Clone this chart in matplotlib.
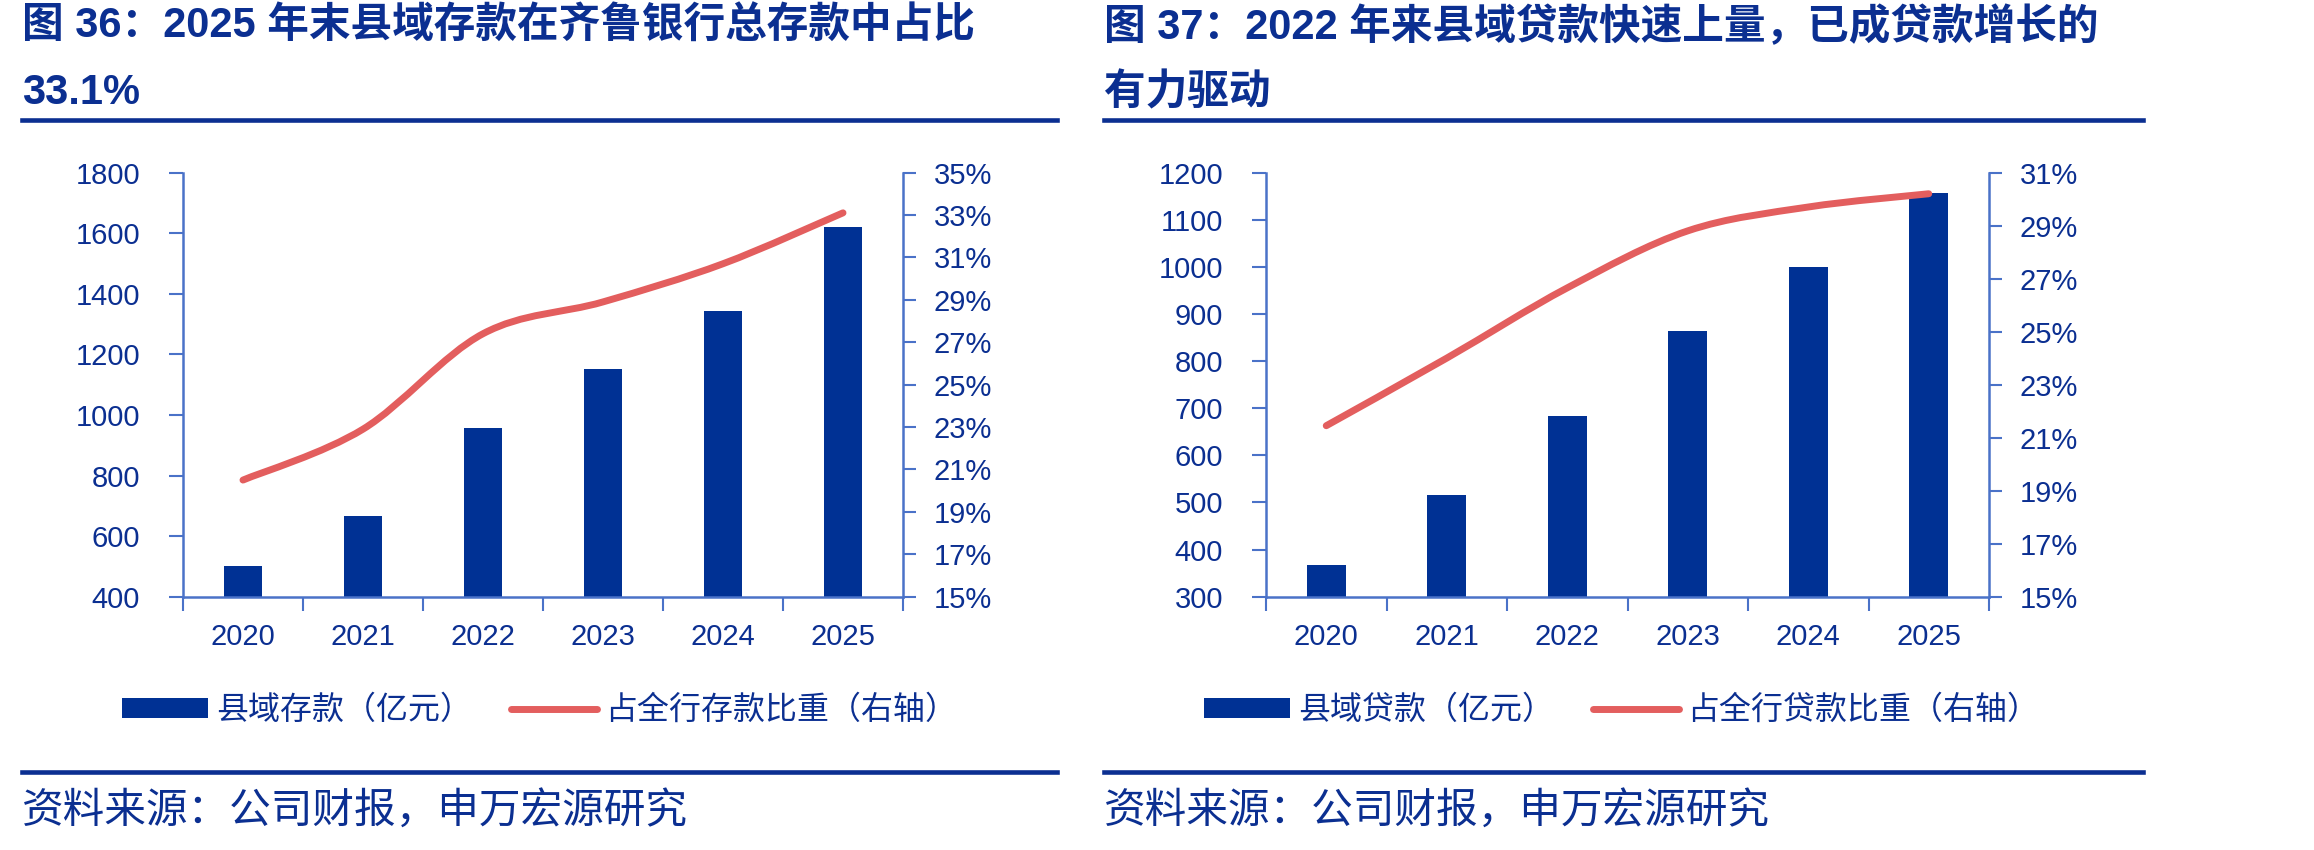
import matplotlib
matplotlib.use('Agg')
import matplotlib.pyplot as plt
from matplotlib.path import Path
from matplotlib.patches import PathPatch
from matplotlib.lines import Line2D
import numpy as np

# data
years = ['2020', '2021', '2022', '2023', '2024', '2025']
deposits = [501, 667, 957, 1150, 1344, 1621]          # 县域存款（亿元）
deposit_share = [20.5, 22.9, 27.4, 28.9, 30.7, 33.1]  # 占全行存款比重 %
loans = [367, 516, 684, 864, 999, 1156]               # 县域贷款（亿元）
loan_share = [21.45, 24.0, 26.65, 28.8, 29.7, 30.2]   # 占全行贷款比重 %

NAVY = '#003194'
TEXT = '#0B2F91'
AXIS = '#4A72C8'
RED = '#E35E5E'

plt.rcParams['font.family'] = ['Liberation Sans', 'Noto Sans CJK SC']

W, H = 2314, 850
fig = plt.figure(figsize=(W / 100, H / 100), dpi=100)


def smooth_path(xs, ys):
    # Excel-style smoothed line: bezier segments through the data points
    pts = np.column_stack([xs, ys]).astype(float)
    n = len(pts)
    verts = [pts[0]]
    codes = [Path.MOVETO]
    for i in range(n - 1):
        p0 = pts[max(i - 1, 0)]
        p1 = pts[i]
        p2 = pts[i + 1]
        p3 = pts[min(i + 2, n - 1)]
        verts += [p1 + (p2 - p0) / 6, p2 - (p3 - p1) / 6, p2]
        codes += [Path.CURVE4] * 3
    return Path(verts, codes)


def panel(left_px, right_px, values, share, ylim, yticks, y2lim, y2ticks,
          title1, title2, lab_bar, lab_line, x0_px, x1_px, leg_px):
    rect = [left_px / W, 0.298, (right_px - left_px) / W, 0.499]
    ax = fig.add_axes(rect)
    x = np.arange(len(years))
    bars = ax.bar(x, values, width=0.32, color=NAVY, zorder=2)
    ax.set_xlim(-0.5, len(years) - 0.5)
    ax.set_ylim(*ylim)
    ax.set_yticks(yticks)
    ax.set_xticks(np.arange(-0.5, len(years)))
    ax.set_xticks(x, labels=years, minor=True)
    ax.tick_params(axis='x', which='major', direction='out', length=10,
                   width=1.5, color=AXIS, labelbottom=False)
    ax.tick_params(axis='x', which='minor', length=0, pad=19,
                   labelsize=21, labelcolor=TEXT)
    ax.tick_params(axis='y', direction='out', length=10, width=1.5,
                   color=AXIS, pad=21, labelsize=21, labelcolor=TEXT)

    ax2 = ax.twinx()
    ax2.set_ylim(*y2lim)
    ax2.set_yticks(y2ticks, labels=[f'{t}%' for t in y2ticks])
    ax2.tick_params(axis='y', direction='out', length=9, width=1.5,
                    color=AXIS, pad=13, labelsize=21, labelcolor=TEXT)

    for a in (ax, ax2):
        a.spines['top'].set_visible(False)
        for s in ('left', 'right', 'bottom'):
            a.spines[s].set_color(AXIS)
            a.spines[s].set_linewidth(1.8)
    ax.spines['right'].set_visible(False)
    ax2.spines['left'].set_visible(False)
    ax2.spines['bottom'].set_visible(False)

    ax2.add_patch(PathPatch(smooth_path(x, share), fill=False, edgecolor=RED,
                            lw=5, capstyle='round', zorder=3))

    # title, rules, legend, source
    fig.text(x0_px / W, 1 - 27 / H, title1, fontsize=30, fontweight='bold',
             color=TEXT, va='center', ha='left')
    fig.text(x0_px / W, 1 - 93 / H, title2, fontsize=30, fontweight='bold',
             color=TEXT, va='center', ha='left')
    for yp in (120, 772):
        fig.add_artist(Line2D([x0_px / W, x1_px / W], [1 - yp / H] * 2,
                              color=TEXT, lw=3.3))
    line_h = Line2D([], [], color=RED, lw=5, solid_capstyle='round')
    fig.legend([bars, line_h], [lab_bar, lab_line], loc='center left',
               bbox_to_anchor=(leg_px / W, 1 - 711 / H), ncol=2,
               frameon=False, fontsize=23, labelcolor=TEXT, borderpad=0,
               borderaxespad=0, handlelength=2.7, handleheight=0.56,
               handletextpad=0.25, columnspacing=1.2)
    fig.text(x0_px / W, 1 - 813 / H, '资料来源：公司财报，申万宏源研究',
             fontsize=30, color=TEXT, va='center', ha='left')


panel(183, 903, deposits, deposit_share, (400, 1800),
      list(range(400, 1801, 200)), (15, 35), list(range(15, 36, 2)),
      '图 36：2025 年末县域存款在齐鲁银行总存款中占比', '33.1%',
      '县域存款（亿元）', '占全行存款比重（右轴）', 22, 1057, 122)

panel(1266, 1989, loans, loan_share, (300, 1200),
      list(range(300, 1201, 100)), (15, 31), list(range(15, 32, 2)),
      '图 37：2022 年来县域贷款快速上量，已成贷款增长的', '有力驱动',
      '县域贷款（亿元）', '占全行贷款比重（右轴）', 1104, 2143, 1204)

fig.savefig('out.png', dpi=100)
